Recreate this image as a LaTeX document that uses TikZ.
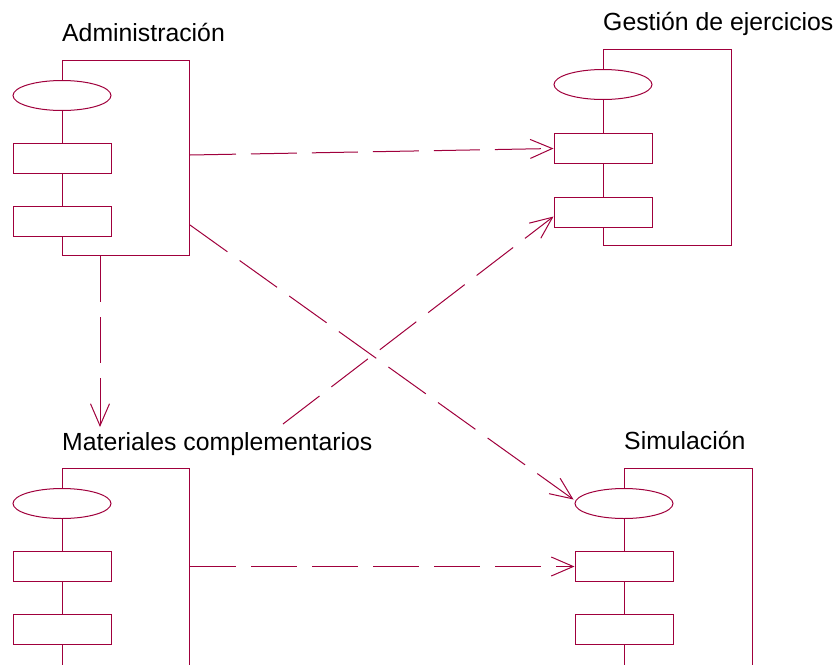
\documentclass[tikz,border=0pt]{standalone}
\usepackage{fontspec}
\setmainfont{Liberation Sans}
\usetikzlibrary{shapes.geometric,arrows.meta,positioning,calc}
\definecolor{xCompLine}{RGB}{160,0,60}

\tikzset{
  comp/.style={draw=xCompLine, line width=1pt, minimum width=127pt, minimum height=195pt, inner sep=0pt, anchor=north west},
  iface/.style={ellipse, draw=xCompLine, fill=white, line width=1pt, minimum width=98pt, minimum height=30pt, inner sep=0pt},
  port/.style={rectangle, draw=xCompLine, fill=white, line width=1pt, minimum width=98pt, minimum height=30pt, inner sep=0pt},
  dep/.style={draw=xCompLine, line width=1pt, dash pattern=on 46pt off 15pt, -{Straight Barb[length=22pt,width=19pt]}},
  title/.style={anchor=base west, inner sep=0pt, font=\fontsize{24.8}{29}\selectfont}
}

\begin{document}
\begin{tikzpicture}[x=1pt, y=-1pt]
    \useasboundingbox (0,0) rectangle (837,664);
    \clip (0,0) rectangle (837,664);

    % components
    \node[comp] (admin) at (62,60) {};
    \node[comp, minimum width=128pt, minimum height=196pt] (gest) at (603,49) {};
    \node[comp, minimum height=230pt] (mat) at (62,468) {};
    \node[comp, minimum width=128pt, minimum height=230pt] (sim) at (624,468) {};

    % interfaces and ports
    \node[iface, below=20pt of admin.north west] (adminI) {};
    \node[port, below=32pt of adminI] (adminP1) {};
    \node[port, below=32pt of adminP1] (adminP2) {};

    \node[iface, below=20pt of gest.north west] (gestI) {};
    \node[port, below=33pt of gestI] (gestP1) {};
    \node[port, below=33pt of gestP1] (gestP2) {};

    \node[iface, below=20pt of mat.north west] (matI) {};
    \node[port, below=32pt of matI] (matP1) {};
    \node[port, below=32pt of matP1] (matP2) {};

    \node[iface, below=20pt of sim.north west] (simI) {};
    \node[port, below=32pt of simI] (simP1) {};
    \node[port, below=32pt of simP1] (simP2) {};

    % names
    \node[title] (adminLbl) at (62,41) {Administración};
    \node[title] (gestLbl) at (603,30) {Gestión de ejercicios};
    \node[title] (matLbl) at (62,450) {Materiales complementarios};
    \node[title] (simLbl) at (624,449) {Simulación};

    \coordinate (matIn) at (100,427);
    \coordinate (matOut) at (283,424);

    % dependencies
    \draw[dep] ($(admin.north east)+(0,95)$) -- (gestP1.west);
    \draw[dep] ($(admin.south east)+(0,-31)$) -- ($(simI.west)+(-1,-4)$);
    \draw[dep] ($(admin.south west)+(38,0)$) -- (matIn);
    \draw[dep] (matOut) -- ($(gestP2.west)+(0,4)$);
    \draw[dep] (simP1.west -| mat.east) -- (simP1.west);
\end{tikzpicture}
\end{document}
